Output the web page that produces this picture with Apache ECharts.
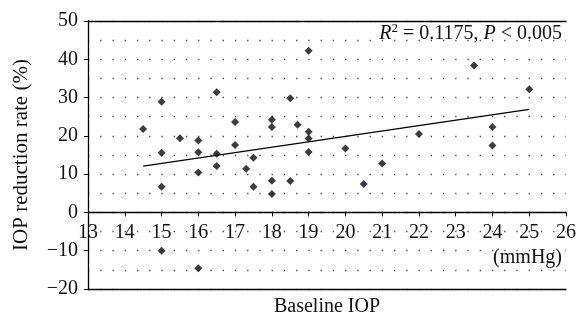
<!DOCTYPE html>
<html>
<head>
<meta charset="utf-8">
<script src="https://cdn.jsdelivr.net/npm/echarts@6/dist/echarts.min.js"></script>
<style>
  html, body { margin: 0; padding: 0; background: #fff; }
  #main { width: 578px; height: 313px; }
</style>
</head>
<body>
<div id="main"></div>
<script>
// baseline IOP (mmHg) and IOP reduction rate (%)
var baselineIop = [14.5, 15, 15, 15, 15, 15.5, 16, 16, 16, 16, 16.5, 16.5, 16.5, 17, 17, 17.3, 17.5, 17.5,
    18, 18, 18, 18, 18.5, 18.5, 18.7, 19, 19, 19, 19, 20, 20.5, 21, 22, 23.5, 24, 24, 25];
var reductionRate = [21.8, 28.9, 15.6, 6.7, -10, 19.4, 18.8, 15.7, 10.4, -14.6, 31.4, 15.3, 12.1, 23.6, 17.6, 11.4, 14.3, 6.7,
    24.2, 22.3, 8.3, 4.8, 29.8, 8.2, 22.9, 42.2, 21.1, 19.3, 15.8, 16.7, 7.4, 12.8, 20.5, 38.4, 22.3, 17.5, 32.2];
// regression line end points
var trendX = [14.5, 25];
var trendY = [12.1, 26.9];
var xTicks = [13, 26];
var yTicks = [-20, 50];

var font = 'Liberation Serif';
var points = baselineIop.map(function (x, i) { return [x, reductionRate[i]]; });
var trend = trendX.map(function (x, i) { return [x, trendY[i]]; });

var myChart = echarts.init(document.getElementById('main'));
var plotTop = 21, plotBottom = 24, plotH = 313 - plotTop - plotBottom;
// bottom of the upper (positive) part, where y = 0
var zeroBottom = plotBottom + plotH * (0 - yTicks[0]) / (yTicks[1] - yTicks[0]);
var dotted = { color: '#444', width: 1.3, type: [1.3, 10.94] };
var frameLine = { color: '#000', width: 1.3 };

var option = {
    animation: false,
    textStyle: { fontFamily: font },
    grid: [
        { left: 88, right: 12, top: plotTop, bottom: plotBottom, outerBoundsMode: 'none' },
        { left: 88, right: 12, top: plotTop, bottom: plotBottom, outerBoundsMode: 'none' },
        { left: 88, right: 12, top: plotTop, bottom: zeroBottom, outerBoundsMode: 'none' }
    ],
    xAxis: [
        {   // data axis, top frame
            type: 'value', gridIndex: 0, position: 'top',
            min: xTicks[0], max: xTicks[1],
            axisLine: { onZero: false, lineStyle: frameLine },
            axisTick: { show: false }, axisLabel: { show: false }, splitLine: { show: false }
        },
        {   // bottom frame
            type: 'value', gridIndex: 1, position: 'bottom',
            min: xTicks[0], max: xTicks[1],
            axisLine: { onZero: false, lineStyle: frameLine },
            axisTick: { show: false }, axisLabel: { show: false }, splitLine: { show: false },
            name: 'Baseline IOP', nameLocation: 'middle', nameGap: 8,
            nameTextStyle: { color: '#111', fontSize: 20, fontFamily: font, verticalAlign: 'top' }
        },
        {   // axis through zero with tick labels
            type: 'value', gridIndex: 2, position: 'bottom',
            min: xTicks[0], max: xTicks[1], interval: 1,
            axisLine: { onZero: false, lineStyle: frameLine },
            axisTick: { show: true, length: 4, lineStyle: { color: '#000' } },
            axisLabel: { color: '#111', fontSize: 20, fontFamily: font, margin: 10 },
            splitLine: { show: false }
        }
    ],
    yAxis: [
        {
            type: 'value', gridIndex: 0,
            min: yTicks[0], max: yTicks[1], interval: 10,
            name: 'IOP reduction rate (%)', nameLocation: 'middle', nameGap: 56,
            nameTextStyle: { color: '#111', fontSize: 21, fontFamily: font },
            axisLine: { show: true, onZero: false, lineStyle: frameLine },
            axisTick: { show: true, length: 4, lineStyle: { color: '#000' } },
            axisLabel: {
                color: '#111', fontSize: 20, fontFamily: font, margin: 10,
                formatter: function (v) { return String(v).replace('-', '\u2212'); }
            },
            minorTick: { show: false, splitNumber: 2 },
            splitLine: { show: true, lineStyle: dotted },
            minorSplitLine: { show: true, lineStyle: dotted }
        },
        { type: 'value', gridIndex: 1, min: yTicks[0], max: yTicks[1], show: false },
        { type: 'value', gridIndex: 2, min: 0, max: yTicks[1], show: false }
    ],
    graphic: [
        {
            type: 'text', right: 16, top: 22,
            style: {
                text: '{i|R}{sup|2} = 0.1175, {i|P} < 0.005',
                fontFamily: font, fontSize: 20, fill: '#111',
                rich: {
                    i: { fontStyle: 'italic', fontSize: 20, fontFamily: font },
                    sup: { fontSize: 13, fontFamily: font, padding: [0, 0, 10, 0] }
                }
            }
        },
        {
            type: 'text', right: 16, top: 248,
            style: { text: '(mmHg)', fontFamily: font, fontSize: 20, fill: '#111' }
        }
    ],
    series: [
        {
            type: 'scatter', xAxisIndex: 0, yAxisIndex: 0,
            symbol: 'diamond', symbolSize: 8,
            itemStyle: { color: '#0a0a14' },
            data: points, z: 3
        },
        {
            type: 'line', xAxisIndex: 0, yAxisIndex: 0,
            showSymbol: false, symbol: 'none',
            lineStyle: { color: '#000', width: 1.3 },
            data: trend, z: 2
        }
    ]
};

myChart.setOption(option);
</script>
</body>
</html>
